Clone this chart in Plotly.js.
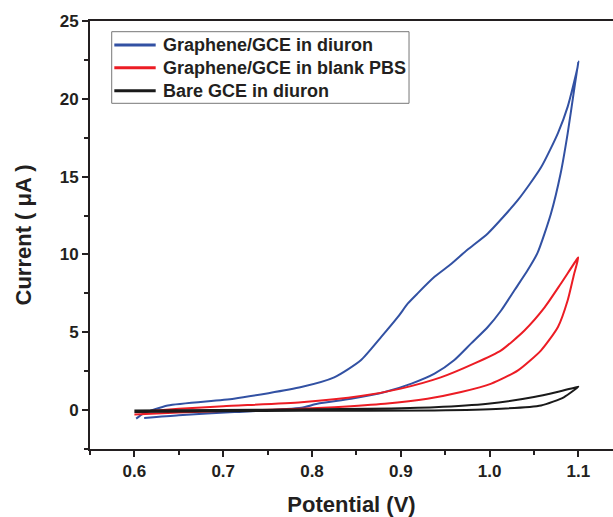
<!DOCTYPE html>
<html>
<head>
<meta charset="utf-8">
<script src="https://cdn.plot.ly/plotly-3.0.1.min.js"></script>
<style>html,body{margin:0;padding:0;background:#fff;}#chart{width:613px;height:517px;}</style>
</head>
<body>
<div id="chart"></div>
<script>
// Graphene/GCE in diuron (lower branch from left to 1.1 V, then upper branch back)
const blueX = [0.611, 0.65, 0.7126, 0.788, 0.806, 0.844, 0.882, 0.912, 0.938, 0.960, 0.979, 0.998, 1.013, 1.028, 1.043, 1.054, 1.069, 1.080, 1.088, 1.095, 1.1,
               1.099, 1.088, 1.077, 1.058, 1.032, 0.998, 0.975, 0.957, 0.938, 0.919, 0.908, 0.897, 0.878, 0.855, 0.825, 0.788, 0.712, 0.6376, 0.611, 0.602];
const blueY = [-0.51, -0.33, -0.13, 0.15, 0.41, 0.73, 1.16, 1.7, 2.34, 3.2, 4.27, 5.34, 6.4, 7.7, 9.0, 10.1, 12.6, 15.2, 17.8, 20.5, 22.4,
               22.0, 19.5, 17.8, 15.6, 13.5, 11.35, 10.3, 9.4, 8.56, 7.5, 6.85, 6.0, 4.7, 3.2, 2.1, 1.48, 0.73, 0.3, -0.2, -0.55];
// Graphene/GCE in blank PBS
const redX = [0.6, 0.65, 0.7, 0.788, 0.825, 0.882, 0.93, 0.968, 1.002, 1.032, 1.058, 1.077, 1.088, 1.095, 1.1,
              1.099, 1.080, 1.062, 1.039, 1.013, 0.983, 0.945, 0.9, 0.855, 0.788, 0.7, 0.65, 0.604];
const redY = [-0.28, -0.16, -0.06, 0.09, 0.19, 0.41, 0.73, 1.16, 1.7, 2.55, 3.84, 5.34, 7.06, 8.7, 9.8,
              9.74, 8.1, 6.6, 5.1, 3.84, 3.0, 2.1, 1.38, 0.9, 0.5, 0.25, 0.08, -0.13];
// Bare GCE in diuron
const blackX = [0.6, 0.7, 0.788, 0.938, 1.013, 1.058, 1.084, 1.1,
                1.099, 1.05, 0.998, 0.938, 0.863, 0.75, 0.6];
const blackY = [-0.12, -0.07, -0.05, -0.02, 0.09, 0.3, 0.84, 1.5,
                1.48, 0.84, 0.41, 0.19, 0.09, 0.02, -0.03];

const names = ["Graphene/GCE in diuron", "Graphene/GCE in blank PBS", "Bare GCE in diuron"];
const colors = ["#3251a3", "#ec1c24", "#1a1a1a"];
const xTicks = [0.6, 0.7, 0.8, 0.9, 1.0, 1.1];
const xTickText = ["0.6", "0.7", "0.8", "0.9", "1.0", "1.1"];
const yTicks = [0, 5, 10, 15, 20, 25];

const fontFam = "Arial, 'Liberation Sans', sans-serif";
const axCol = "#231f20";

const series = [[blueX, blueY], [redX, redY], [blackX, blackY]];
const traces = series.map((s, i) => ({
  x: s[0], y: s[1], name: names[i], mode: "lines", showlegend: false,
  line: {color: colors[i], width: 2, shape: "spline", smoothing: 0.6}
}));

// legend box drawn as layout decoration (paper coordinates)
const legBox = {x0: 0.0415, x1: 0.610, y0: 0.8077, y1: 0.975};
const legRows = [0.9439, 0.8909, 0.8372];
const legLine = [0.0465, 0.1256];
const legText = 0.1355;

const shapes = [{type: "rect", xref: "paper", yref: "paper", x0: legBox.x0, x1: legBox.x1, y0: legBox.y0, y1: legBox.y1,
                 line: {color: "#777", width: 1}, fillcolor: "#fff", layer: "above"}];
const annotations = [];
names.forEach((n, i) => {
  shapes.push({type: "line", xref: "paper", yref: "paper", x0: legLine[0], x1: legLine[1], y0: legRows[i], y1: legRows[i],
               line: {color: colors[i], width: 3}, layer: "above"});
  annotations.push({xref: "paper", yref: "paper", x: legText, y: legRows[i], xanchor: "left", yanchor: "middle",
                    text: n, showarrow: false, font: {family: fontFam, size: 18, color: axCol, weight: "bold"}});
});

const layout = {
  width: 613, height: 517,
  margin: {l: 90, r: 0, t: 21, b: 68},
  paper_bgcolor: "#fff", plot_bgcolor: "#fff",
  showlegend: false,
  font: {family: fontFam, color: axCol, size: 17, weight: "bold"},
  shapes: shapes,
  annotations: annotations,
  xaxis: {
    range: [0.55, 1.139], tickvals: xTicks, ticktext: xTickText,
    showgrid: false, zeroline: false,
    showline: true, linecolor: axCol, linewidth: 2, mirror: true,
    ticks: "outside", ticklen: 6, tickwidth: 2, tickcolor: axCol,
    minor: {dtick: 0.05, tick0: 0.55, ticks: "outside", ticklen: 4, tickwidth: 2, tickcolor: axCol, showgrid: false},
    tickfont: {family: fontFam, size: 17, color: axCol, weight: "bold"},
    title: {text: "Potential (V)", font: {family: fontFam, size: 22, color: axCol, weight: "bold"}, standoff: 17},
    automargin: false
  },
  yaxis: {
    range: [-2.5, 25], tickvals: yTicks,
    showgrid: false, zeroline: false,
    showline: true, linecolor: axCol, linewidth: 2,
    ticks: "outside", ticklen: 6, tickwidth: 2, tickcolor: axCol,
    minor: {dtick: 2.5, tick0: 0, ticks: "outside", ticklen: 4, tickwidth: 2, tickcolor: axCol, showgrid: false},
    tickfont: {family: fontFam, size: 17, color: axCol, weight: "bold"},
    title: {text: "Current ( \u03bcA )", font: {family: fontFam, size: 22, color: axCol, weight: "bold"}, standoff: 22},
    automargin: false
  }
};

Plotly.newPlot("chart", traces, layout, {displayModeBar: false, staticPlot: true});
</script>
</body>
</html>
